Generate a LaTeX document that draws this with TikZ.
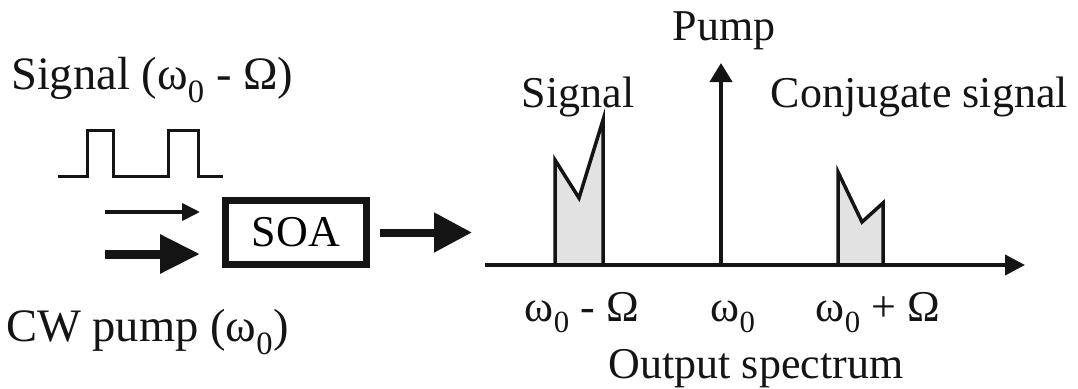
\documentclass[tikz,border=0pt]{standalone}
\usepackage{fontspec}
\setmainfont{Liberation Serif}
\usetikzlibrary{arrows.meta,positioning}
\definecolor{ink}{RGB}{20,20,20}
\definecolor{band}{RGB}{226,226,226}
\newcommand{\wz}{ω\textsubscript{0}}
\tikzset{
  lbl/.style={inner sep=0pt,font=\fontsize{44}{52}\selectfont,text=ink},
  biglbl/.style={lbl,font=\fontsize{46.5}{54}\selectfont},
  ampbox/.style={draw=ink,line width=7pt,minimum width=141pt,minimum height=64pt,inner sep=0pt,font=\fontsize{44}{52}\selectfont},
  thinarr/.style={-{Triangle[length=18pt,width=17pt]},line width=4pt,draw=ink},
  fatarr/.style={-{Triangle[length=40pt,width=37pt]},line width=9pt,draw=ink},
  axarr/.style={-{Triangle[length=20pt,width=20pt]},line width=4pt,draw=ink},
  peak/.style={draw=ink,line width=3.5pt,fill=band,line join=miter},
}
\begin{document}
\begin{tikzpicture}[x=1pt,y=-1pt]
  \useasboundingbox (0,0) rectangle (1078,388);
  % input side
  \node[biglbl,anchor=base west] (siglbl) at (11,89) {Signal (\wz{} - Ω)};
  \draw[ink,line width=3pt] (58,176) -- (87,176) -- (87,130) -- (113,130) -- (113,176)
    -- (168,176) -- (168,130) -- (198,130) -- (198,176) -- (223,176);
  \node[ampbox] (soa) at (296,232.5) {SOA};
  \coordinate (sigin) at (105,212);
  \coordinate (pumpin) at (105,254);
  \draw[thinarr,shorten >=22pt] (sigin) -- (sigin -| soa.west);
  \draw[fatarr,shorten >=22pt] (pumpin) -- (pumpin -| soa.west);
  \node[biglbl,anchor=base west] (cwlbl) at (6,341) {CW pump (\wz)};
  % spectrum
  \coordinate (ax0) at (485,265);
  \coordinate (ax1) at (1025,265);
  \coordinate (w0) at (721,265);
  \coordinate (pk) at (721,63);
  \draw[fatarr,line width=8pt,-{Triangle[length=38pt,width=38pt]},shorten <=10pt,shorten >=13pt]
    (soa.east) -- (soa.east -| ax0);
  \draw[peak] (555,265) -- (555,160) -- (579,198) -- (603,120) -- (603,265);
  \draw[peak] (838,265) -- (838,172) -- (862,222) -- (883,203) -- (883,265);
  \draw[axarr] (ax0) -- (ax1);
  \draw[axarr,-{Triangle[length=19pt,width=22pt]}] (w0) -- (pk);
  \node[lbl,anchor=base] (pumplbl) at (724,40) {Pump};
  \node[lbl,anchor=base] (sigpk) at (578,107) {Signal};
  \node[lbl,anchor=base east] (conjpk) at (1068,107) {Conjugate signal};
  \node[lbl,anchor=base] (fm) at (582,321) {\wz{} - Ω};
  \node[lbl,anchor=base] (f0) at (733,321) {\wz};
  \node[lbl,anchor=base] (fp) at (878,321) {\wz{} + Ω};
  \node[lbl,anchor=base] (outlbl) at (756,378) {Output spectrum};
\end{tikzpicture}
\end{document}
